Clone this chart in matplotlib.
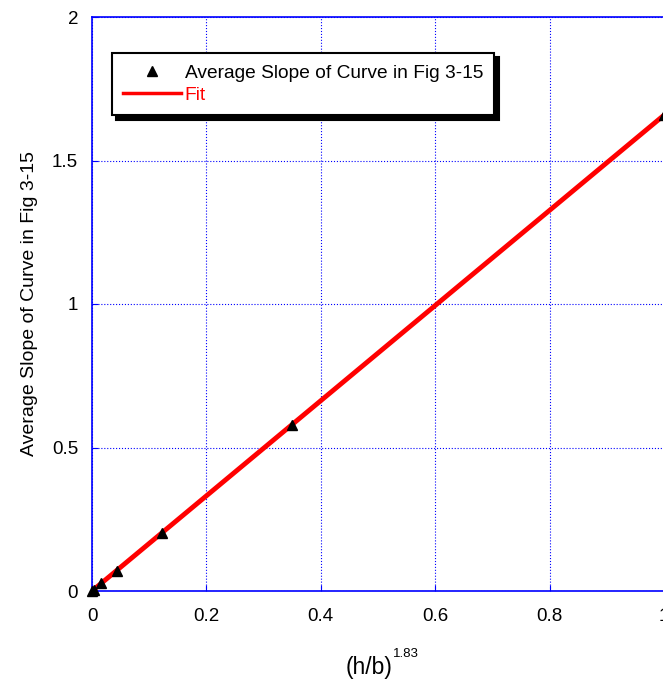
import matplotlib
matplotlib.use('Agg')
import matplotlib.pyplot as plt
from matplotlib.lines import Line2D

plt.rcParams['font.family'] = ['Liberation Sans', 'DejaVu Sans']

# data
hb = [0.0, 0.003, 0.015, 0.044, 0.123, 0.350, 1.0]
slope = [0.0, 0.004, 0.027, 0.070, 0.202, 0.578, 1.658]
fit_x = [0.0, 1.0]
fit_slope = 1.658
fit_y = [fit_slope * v for v in fit_x]

x_ticks = [0, 0.2, 0.4, 0.6, 0.8, 1]
x_labels = ['0', '0.2', '0.4', '0.6', '0.8', '1']
y_ticks = [0, 0.5, 1, 1.5, 2]
y_labels = ['0', '0.5', '1', '1.5', '2']

fig = plt.figure(figsize=(6.63, 6.85), dpi=100)
# right edge of the axes sits just past the picture, as in the reference
ax = fig.add_axes([92 / 663, 94 / 685, 572 / 663, 574 / 685])

ax.plot(fit_x, fit_y, color='red', lw=3.5, zorder=3)
ax.plot(hb, slope, ls='none', marker='^', color='black', ms=7.5, zorder=4,
        clip_on=False)

ax.set_xlim(0, 1)
ax.set_ylim(0, 2)
ax.set_xticks(x_ticks)
ax.set_xticklabels(x_labels)
ax.set_yticks(y_ticks)
ax.set_yticklabels(y_labels)
ax.tick_params(direction='in', length=4, color='blue', labelsize=13.5)
ax.tick_params(axis='x', pad=12)
ax.tick_params(axis='y', pad=10)
ax.grid(True, color='blue', ls=':', lw=0.8)

for s in ax.spines.values():
    s.set_color('blue')
    s.set_linewidth(1.2)

ax.set_ylabel('Average Slope of Curve in Fig 3-15', fontsize=14, labelpad=10)
fig.text(346 / 663, 0.016, '(h/b)', fontsize=16.5, va='baseline', ha='left')
fig.text(393 / 663, 0.041, '1.83', fontsize=9.5, va='baseline', ha='left')

handles = [
    Line2D([], [], ls='none', marker='^', color='black', ms=7.5),
    Line2D([], [], color='red', lw=2.5),
]
leg = ax.legend(handles, ['Average Slope of Curve in Fig 3-15', 'Fit'],
                loc='upper left', bbox_to_anchor=(20 / 572, 538 / 574),
                borderaxespad=0, fancybox=False,
                shadow={'color': 'black', 'alpha': 1, 'ox': 3, 'oy': -3},
                edgecolor='black', framealpha=1, fontsize=13.75,
                handlelength=3.0, borderpad=0.6, labelspacing=0.25,
                handletextpad=0.2)
leg.get_frame().set_linewidth(1.5)
leg.get_texts()[1].set_color('red')

fig.savefig('out.png', dpi=100)
